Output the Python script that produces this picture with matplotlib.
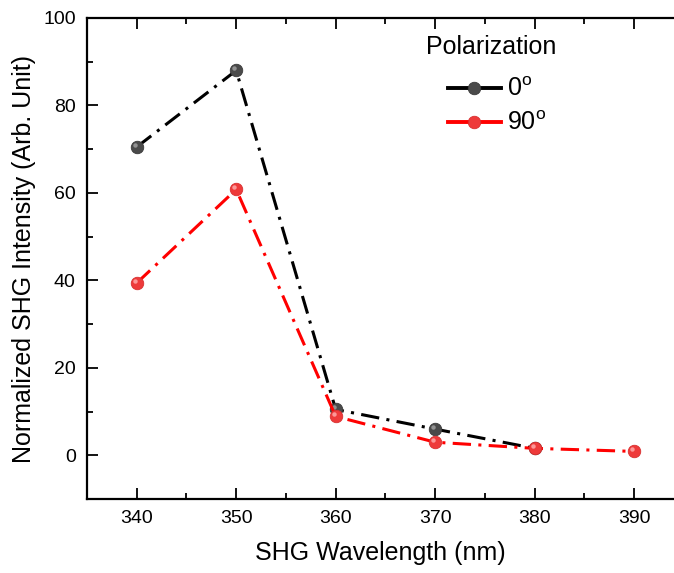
import matplotlib
matplotlib.use("Agg")
import matplotlib.pyplot as plt
import matplotlib.transforms as mtransforms
from matplotlib.ticker import MultipleLocator
from matplotlib.lines import Line2D

plt.rcParams['font.family'] = ['Liberation Sans', 'DejaVu Sans']
plt.rcParams['mathtext.fontset'] = 'custom'
plt.rcParams['mathtext.rm'] = 'Liberation Sans'
plt.rcParams['mathtext.it'] = 'Liberation Sans:italic'

wl_0 = [340, 350, 360, 370, 380]
int_0 = [70.5, 88.0, 10.5, 6.0, 1.6]
wl_90 = [340, 350, 360, 370, 380, 390]
int_90 = [39.4, 60.8, 8.9, 3.0, 1.6, 0.9]
labels = ['0$^{\\rm o}$', '90$^{\\rm o}$']

fig = plt.figure(figsize=(6.74, 5.73), dpi=100)
ax = fig.add_axes([0.129, 0.129, 0.871, 0.8396])

dash = (6, 2.4, 1, 2.4)
lw = 2.2
ms = 9
ax.plot(wl_0, int_0, color='black', lw=lw, dashes=dash, marker='o', ms=ms,
        mfc='#4a4a4a', mec='#3a3a3a', mew=0.6, zorder=3)
ax.plot(wl_90, int_90, color='#ff0000', lw=lw, dashes=dash, marker='o', ms=ms,
        mfc='#ee3a3a', mec='#d83030', mew=0.6, zorder=4)
# highlights for sphere look (offset up-left)
off = mtransforms.ScaledTranslation(-1.5 / 72, 1.5 / 72, fig.dpi_scale_trans)
ax.plot(wl_0, int_0, ls='none', marker='o', ms=3.2, mfc='#a0a0a0', mec='none',
        alpha=0.85, zorder=3.5, transform=ax.transData + off)
ax.plot(wl_90, int_90, ls='none', marker='o', ms=3.2, mfc='#ffa8a8', mec='none',
        alpha=0.85, zorder=4.5, transform=ax.transData + off)

ax.set_xlim(335, 394)
ax.set_ylim(-10, 100)
ax.xaxis.set_major_locator(MultipleLocator(10))
ax.xaxis.set_minor_locator(MultipleLocator(5))
ax.yaxis.set_minor_locator(MultipleLocator(10))
ax.set_yticks([0, 20, 40, 60, 80, 100])

ax.spines['right'].set_visible(False)
for s in ['left', 'bottom', 'top']:
    ax.spines[s].set_linewidth(1.6)
ax.tick_params(which='both', direction='in', top=True, right=False, width=1.3)
ax.tick_params(which='major', length=8, labelsize=14, pad=8)
ax.tick_params(which='minor', length=4)
ax.tick_params(axis='x', which='both', labeltop=False)

ax.set_xlabel('SHG Wavelength (nm)', fontsize=18, labelpad=10)
ax.set_ylabel('Normalized SHG Intensity (Arb. Unit)', fontsize=18, labelpad=5)

handles = [
    Line2D([], [], color='black', lw=2.8, marker='o', ms=ms, mfc='#4a4a4a', mec='#3a3a3a', mew=0.6),
    Line2D([], [], color='#ff0000', lw=2.8, marker='o', ms=ms, mfc='#ee3a3a', mec='#d83030', mew=0.6),
]
leg = ax.legend(handles, labels, loc='center left',
                bbox_to_anchor=(448 / 674, 1 - 106.5 / 573), bbox_transform=fig.transFigure,
                frameon=False, fontsize=18, handlelength=2.1, numpoints=1,
                labelspacing=0.4, handletextpad=0.25, borderpad=0, borderaxespad=0)
fig.text(426 / 674, 1 - 54 / 573, 'Polarization', fontsize=18, va='baseline', ha='left')

fig.savefig('out.png', dpi=100)
